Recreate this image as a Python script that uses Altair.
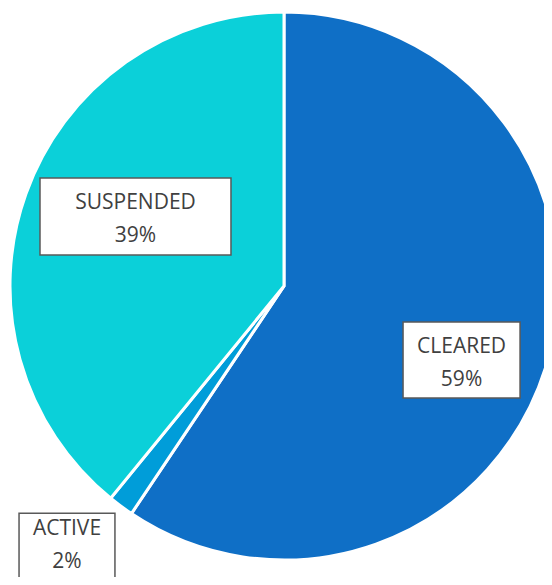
import altair as alt
import pandas as pd

# Slice data (clockwise from 12 o'clock)
categories = ["CLEARED", "ACTIVE", "SUSPENDED"]
values = [59.4, 1.5, 39.1]
pct_labels = ["59%", "2%", "39%"]
colors = ["#0F6FC6", "#009DD9", "#0BD0D9"]

# Label box centres in unit-circle coordinates (pie radius = 1) and box half sizes
box_cx = [0.648, -0.792, -0.542]
box_cy = [-0.270, -0.969, 0.254]
box_hw = [0.2135, 0.175, 0.3485]
box_hh = [0.139, 0.140, 0.1405]
# Text anchor (unit coords); the ACTIVE text sits a little high so it stays on the page
text_cy = [-0.270, -0.935, 0.254]

R = 274          # pie radius in px
CX, CY = 276, 278  # pie centre in chart px

pie_df = pd.DataFrame({"cat": categories, "value": values, "idx": range(len(categories))})
lab_df = pd.DataFrame({
    "cat": categories,
    "text": [f"{c}\n{p}" for c, p in zip(categories, pct_labels)],
    "cx": box_cx,
    "cy": text_cy,
    "x1": [c - w for c, w in zip(box_cx, box_hw)],
    "x2": [c + w for c, w in zip(box_cx, box_hw)],
    "y1": [c - h for c, h in zip(box_cy, box_hh)],
    "y2": [c + h for c, h in zip(box_cy, box_hh)],
})

color_scale = alt.Scale(domain=categories, range=colors)

pie = alt.Chart(pie_df).mark_arc(outerRadius=R, stroke="white", strokeWidth=3).encode(
    theta=alt.Theta("value:Q", stack=True),
    color=alt.Color("cat:N", scale=color_scale, legend=None),
    order=alt.Order("idx:Q"),
    x=alt.value(CX),
    y=alt.value(CY),
)

xs = alt.Scale(domain=[-1, 1], range=[CX - R, CX + R])
ys = alt.Scale(domain=[-1, 1], range=[CY + R, CY - R])

boxes = alt.Chart(lab_df).mark_rect(fill="white", stroke="#595959", strokeWidth=1.5).encode(
    x=alt.X("x1:Q", scale=xs, axis=None),
    x2="x2:Q",
    y=alt.Y("y1:Q", scale=ys, axis=None),
    y2="y2:Q",
)

texts = alt.Chart(lab_df).mark_text(
    font="Open Sans", fontSize=21, color="#404040", lineBreak="\n", lineHeight=33,
    align="center", baseline="middle", dy=-13,
).encode(
    x=alt.X("cx:Q", scale=xs, axis=None),
    y=alt.Y("cy:Q", scale=ys, axis=None),
    text="text:N",
)

chart = alt.layer(pie, boxes, texts).properties(
    width=536, height=569, padding=0, autosize=alt.AutoSizeParams(type="none")
).configure_view(stroke=None)

chart.save("out.html", embed_options={"renderer": "svg", "actions": False})
